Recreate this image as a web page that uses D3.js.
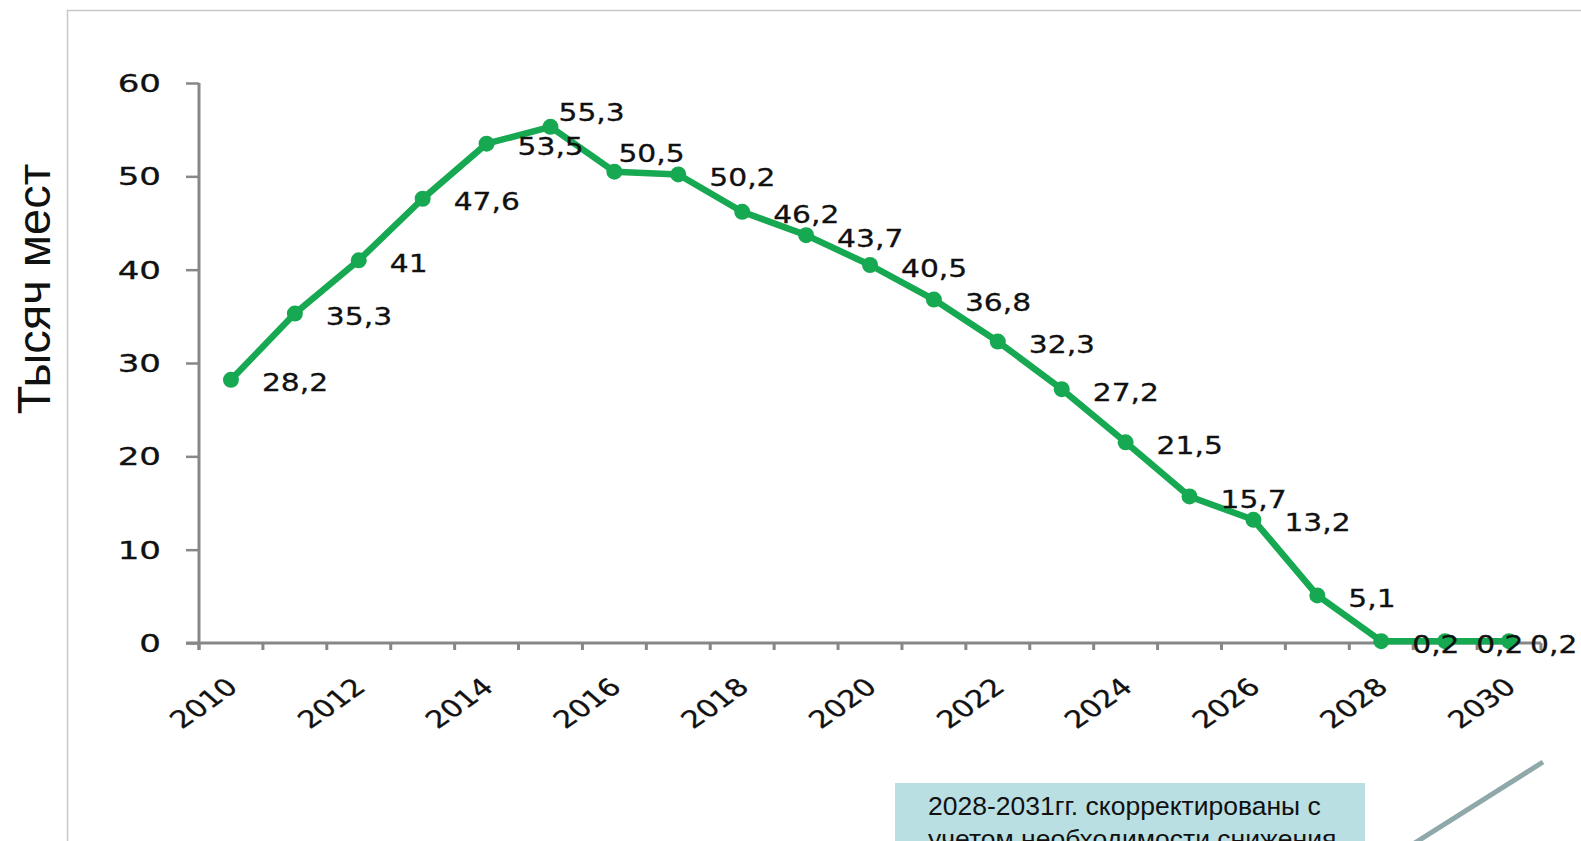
<!DOCTYPE html>
<html>
<head>
<meta charset="utf-8">
<script src="https://cdn.jsdelivr.net/npm/d3@7"></script>
<style>
html, body { margin: 0; padding: 0; background: #fff; overflow: hidden; }
svg { display: block; }
</style>
</head>
<body>
<svg id="chart" width="1581" height="841"></svg>
<script>
// data
var years = [2010, 2011, 2012, 2013, 2014, 2015, 2016, 2017, 2018, 2019, 2020,
             2021, 2022, 2023, 2024, 2025, 2026, 2027, 2028, 2029, 2030];
var places = [28.2, 35.3, 41, 47.6, 53.5, 55.3, 50.5, 50.2, 46.2, 43.7, 40.5,
              36.8, 32.3, 27.2, 21.5, 15.7, 13.2, 5.1, 0.2, 0.2, 0.2];
var yTicks = [0, 10, 20, 30, 40, 50, 60];
var xLabelYears = [2010, 2012, 2014, 2016, 2018, 2020, 2022, 2024, 2026, 2028, 2030];
var yTitle = "Тысяч мест";
var noteLines = ["2028-2031гг. скорректированы с", "учетом необходимости снижения"];

var green = "#17a852",
    axisGrey = "#878787",
    numFont = "'DejaVu Sans', Verdana, sans-serif",
    textFont = "'Liberation Sans', Arial, sans-serif";

var svg = d3.select("#chart");

var x = d3.scaleBand().domain(years).range([199, 1541]).padding(0);
var y = d3.scaleLinear().domain([0, 60]).range([643, 83]);
var bw = x.bandwidth();

//slide frame
svg.append("path")
	.attr("d", "M67.5,841 V10.5 H1581")
	.attr("fill", "none")
	.attr("stroke", "#c8c8c8")
	.attr("stroke-width", 1.5);

//y title
svg.append("text")
	.attr("transform", "translate(50,289) rotate(-90)")
	.attr("text-anchor", "middle")
	.style("font-family", textFont)
	.style("font-size", "47px")
	.style("fill", "#111")
	.text(yTitle);

//y axis
let gy = svg.append("g")
	.attr("transform", "translate(199,0)")
	.call(d3.axisLeft(y).tickValues(yTicks).tickSize(13).tickSizeOuter(0));
gy.select(".domain").remove();
gy.selectAll(".tick line").attr("stroke", axisGrey).attr("stroke-width", 2.5);
gy.selectAll(".tick text")
	.attr("x", 0)
	.attr("dy", "0.36em")
	.attr("transform", "translate(-38,0) scale(1.42,1)")
	.attr("text-anchor", "end")
	.style("font-family", numFont)
	.style("font-size", "24px")
	.style("fill", "#111")
	.style("stroke", "#111")
	.style("stroke-width", 0.3);

svg.append("line")
	.attr("x1", 199).attr("x2", 199)
	.attr("y1", y(60)).attr("y2", y(0) + 7)
	.attr("stroke", axisGrey).attr("stroke-width", 3);

//x axis: line, boundary ticks, labels
svg.append("line")
	.attr("x1", 186).attr("x2", x.range()[1])
	.attr("y1", y(0)).attr("y2", y(0))
	.attr("stroke", axisGrey).attr("stroke-width", 3);

let bounds = years.map(function(d){ return x(d); }).concat([x.range()[1]]);
svg.append("g")
	.selectAll("line")
	.data(bounds)
	.enter()
	.append("line")
	.attr("x1", function(d){ return d; })
	.attr("x2", function(d){ return d; })
	.attr("y1", y(0))
	.attr("y2", y(0) + 7)
	.attr("stroke", axisGrey)
	.attr("stroke-width", 3);

let gx = svg.append("g")
	.attr("transform", "translate(0," + y(0) + ")")
	.call(d3.axisBottom(x).tickValues(xLabelYears).tickSize(0));
gx.select(".domain").remove();
gx.selectAll(".tick text")
	.attr("x", 0)
	.attr("y", 0)
	.attr("dy", 0)
	.attr("text-anchor", "end")
	.attr("transform", "translate(8.5,46) scale(1.27,1) rotate(-42)")
	.style("font-family", numFont)
	.style("font-size", "24px")
	.style("fill", "#111")
	.style("stroke", "#111")
	.style("stroke-width", 0.3);

//series
let plotData = years.map(function(d, i){ return {year: d, value: places[i]}; });

let line = d3.line()
	.x(function(d){ return x(d.year) + bw/2; })
	.y(function(d){ return y(d.value); });

svg.append("path")
	.datum(plotData)
	.attr("d", line)
	.attr("fill", "none")
	.attr("stroke", green)
	.attr("stroke-width", 6.5)
	.attr("stroke-linejoin", "round");

svg.append("g")
	.selectAll("circle")
	.data(plotData)
	.enter()
	.append("circle")
	.attr("cx", function(d){ return x(d.year) + bw/2; })
	.attr("cy", function(d){ return y(d.value); })
	.attr("r", 8)
	.attr("fill", green);

//data labels, a few were moved by hand in the original
let labelShift = {2015: [8, -15], 2016: [4, -18], 2030: [21, 3]};
svg.append("g")
	.selectAll("text")
	.data(plotData)
	.enter()
	.append("text")
	.attr("transform", function(d){
		let s = labelShift[d.year] || [31, 3];
		return "translate(" + (x(d.year) + bw/2 + s[0]) + "," + (y(d.value) + s[1]) + ") scale(1.24,1)";
	})
	.attr("dy", "0.36em")
	.style("font-family", numFont)
	.style("font-size", "24px")
	.style("fill", "#111")
	.style("stroke", "#111")
	.style("stroke-width", 0.3)
	.text(function(d){ return String(d.value).replace(".", ","); });

//note box
svg.append("rect")
	.attr("x", 895).attr("y", 783)
	.attr("width", 470).attr("height", 70)
	.attr("fill", "#b9dfe2");

svg.append("g")
	.selectAll("text")
	.data(noteLines)
	.enter()
	.append("text")
	.attr("x", 928)
	.attr("y", function(d, i){ return 815 + i*33; })
	.style("font-family", textFont)
	.style("font-size", "26.5px")
	.style("fill", "#111")
	.text(function(d){ return d; });

//grey connector stroke
svg.append("line")
	.attr("x1", 1543).attr("y1", 762)
	.attr("x2", 1410).attr("y2", 846)
	.attr("stroke", "#8fa9ab")
	.attr("stroke-width", 5);
</script>
</body>
</html>
